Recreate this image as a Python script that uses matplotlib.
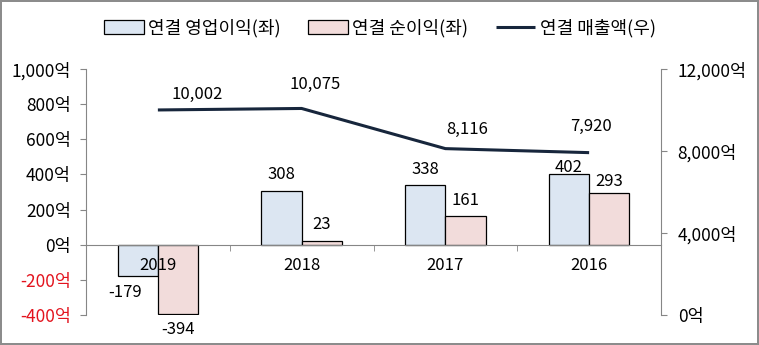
import numpy as np
import matplotlib.pyplot as plt
from matplotlib.ticker import FuncFormatter, FixedLocator

plt.rcParams['font.family'] = ['Noto Sans CJK KR', 'DejaVu Sans']
plt.rcParams['font.size'] = 12

years = ['2019', '2018', '2017', '2016']
op_profit = [-179, 308, 338, 402]       # 연결 영업이익 (좌)
net_profit = [-394, 23, 161, 293]       # 연결 순이익 (좌)
revenue = [10002, 10075, 8116, 7920]    # 연결 매출액 (우)

# hand-placed label offsets (points) for the revenue line
rev_offsets = [(28, 11), (10, 17), (16, 14), (1, 19)]

axis_grey = '#868686'
op_color = '#dce6f2'
net_color = '#f2dcdb'
line_color = '#17263c'
neg_red = '#e3141e'

fig = plt.figure(figsize=(7.59, 3.45), dpi=100, edgecolor='#8c8c8c', linewidth=1.6)
ax = fig.add_axes([86 / 759, 30 / 345, 575 / 759, 246 / 345])
ax2 = ax.twinx()

x = np.arange(len(years))
w = 0.28
b1 = ax.bar(x - w / 2, op_profit, w, color=op_color, edgecolor='black', linewidth=0.9, zorder=1.2)
b2 = ax.bar(x + w / 2, net_profit, w, color=net_color, edgecolor='black', linewidth=0.9, zorder=1.2)

ax.set_ylim(-400, 1000)
ax.set_xlim(-0.5, len(years) - 0.5)
ax2.set_ylim(0, 12000)

# bar value labels
for bars, vals in ((b1, op_profit), (b2, net_profit)):
    for bar, v in zip(bars, vals):
        cx = bar.get_x() + bar.get_width() / 2
        dy = 11.5 if v >= 0 else -11.5
        dx = 0
        if v == -179:
            dx = -9
        if v == 402:
            dy = 4.5
        if v == 293:
            dy = 8.5
        ax.annotate(f'{v:,}', (cx, v), xytext=(dx, dy), textcoords='offset points',
                    ha='center', va='center', zorder=4)

ax2.plot(x, revenue, color=line_color, linewidth=2.2, zorder=3, solid_capstyle='butt')
for xi, v, off in zip(x, revenue, rev_offsets):
    ax2.annotate(f'{v:,}', (xi, v), xytext=off, textcoords='offset points',
                 ha='center', va='center')

# spines
for a in (ax, ax2):
    a.spines['top'].set_visible(False)
    a.spines['bottom'].set_visible(False)
    a.spines['left'].set_color(axis_grey)
    a.spines['right'].set_color(axis_grey)
ax.spines['right'].set_visible(False)
ax2.spines['left'].set_visible(False)
ax.spines['bottom'].set_visible(True)
ax.spines['bottom'].set_position(('data', 0))
ax.spines['bottom'].set_color(axis_grey)
ax.patch.set_visible(False)
ax.set_zorder(ax2.get_zorder() + 1)

# category labels sit just under the zero line, ticks between groups
ax.xaxis.set_major_locator(FixedLocator(x))
ax.set_xticklabels(years)
ax.tick_params(axis='x', which='major', length=0, pad=9)
ax.xaxis.set_minor_locator(FixedLocator(x[:-1] + 0.5))
ax.tick_params(axis='x', which='minor', length=4, color=axis_grey, direction='out')

ax.set_yticks(np.arange(-400, 1001, 200))
ax.yaxis.set_major_formatter(FuncFormatter(lambda v, p: f'{int(v):,}억'))
ax.tick_params(axis='y', length=4, color=axis_grey, pad=7, labelsize=12.5)
for lbl, v in zip(ax.get_yticklabels(), np.arange(-400, 1001, 200)):
    if v < 0:
        lbl.set_color(neg_red)

ax2.set_yticks(np.arange(0, 12001, 4000))
ax2.yaxis.set_major_formatter(FuncFormatter(lambda v, p: f'{int(v):,}억'))
ax2.tick_params(axis='y', length=4, color=axis_grey, pad=8, labelsize=12.5)

handles = [b1, b2, ax2.lines[0]]
names = ['연결 영업이익(좌)', '연결 순이익(좌)', '연결 매출액(우)']
fig.legend(handles, names, loc='center', bbox_to_anchor=(380 / 759, 1 - 28 / 345),
           ncol=3, frameon=False, handlelength=2.2, handleheight=0.8,
           handletextpad=0.25, columnspacing=1.5, fontsize=13)

fig.savefig('out.png', dpi=100)
